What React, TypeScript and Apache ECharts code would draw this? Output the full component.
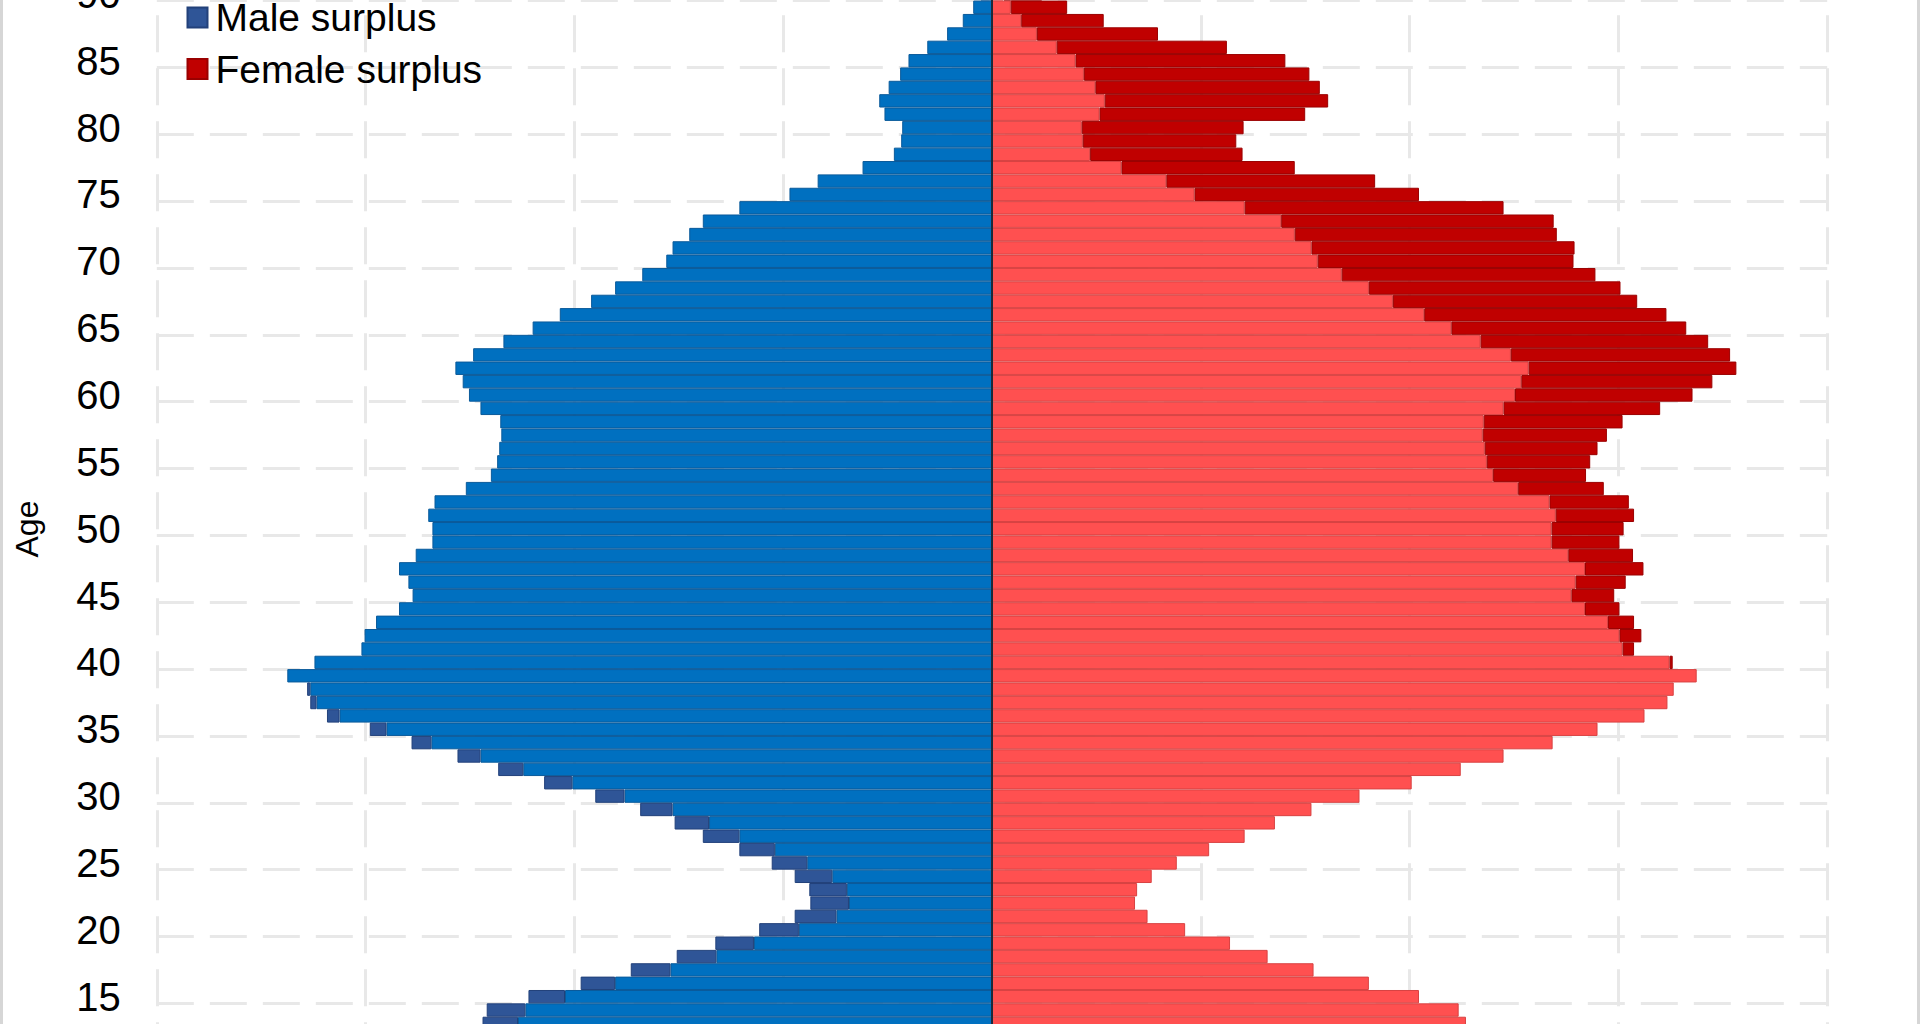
import React, { useEffect, useRef } from "react";
import * as echarts from "echarts";

// Ages shown (bottom to top)
const ages: string[] = [];
for (let a = 13; a <= 90; a++) ages.push(String(a));

// Population by single year of age (ages 13 .. 90)
const male: number[] = [
  488, 484, 444, 394, 346, 302, 265, 223, 189, 174, // 13-22
  175, 189, 211, 242, 277, 304, 337, 380, 429, 473, // 23-32
  512, 556, 596, 637, 653, 656, 675, 649, 604, 601, // 33-42
  590, 568, 555, 559, 568, 552, 536, 536, 540, 534, // 43-52
  504, 480, 474, 472, 470, 471, 490, 501, 507, 514, // 53-62
  497, 468, 440, 414, 384, 361, 335, 312, 306, 290, // 63-72
  277, 242, 194, 167, 124, 94, 87, 86, 103, 108,    // 73-82
  99, 88, 80, 62, 43, 28, 18, 11,                   // 83-90
];
const female: number[] = [
  454, 447, 409, 361, 308, 264, 228, 185, 149, 137, // 13-22
  139, 153, 177, 208, 242, 271, 306, 352, 402, 449, // 23-32
  490, 537, 580, 625, 647, 653, 675, 652, 615, 622, // 33-42
  615, 601, 596, 607, 624, 614, 601, 605, 615, 610, // 43-52
  586, 569, 573, 580, 589, 604, 640, 671, 690, 713, // 53-62
  707, 686, 665, 646, 618, 602, 578, 557, 558, 541, // 63-72
  538, 490, 409, 367, 290, 240, 234, 241, 300, 322, // 73-82
  314, 304, 281, 225, 159, 107, 72, 48,             // 83-90
];

const seriesNames = ["Male", "Male surplus", "Female", "Female surplus"];
const legendNames = ["Male surplus", "Female surplus"];
const axisName = "Age";

export default function App() {
  const ref = useRef<HTMLDivElement>(null);

  useEffect(() => {
    if (!ref.current) return;
    const chart = echarts.init(ref.current, null, { renderer: "svg" });

    const common = male.map((m, i) => Math.min(m, female[i]));
    const maleSurplus = male.map((m, i) => (m > female[i] ? -(m - female[i]) : "-"));
    const femaleSurplus = female.map((f, i) => (f > male[i] ? f - male[i] : "-"));
    const every5 = (_idx: number, val: string) => Number(val) % 5 === 0;
    const font = "Liberation Sans";

    chart.setOption({
      animation: false,
      backgroundColor: "#ffffff",
      grid: { left: 156.8, right: 92.8, top: 37.2, bottom: 43.9, containLabel: false },
      legend: {
        data: legendNames,
        orient: "vertical",
        left: 186.5,
        top: 48,
        padding: 0,
        itemWidth: 20,
        itemHeight: 20,
        itemGap: 12.5,
        icon: "rect",
        selectedMode: false,
        textStyle: { fontSize: 39, lineHeight: 39, color: "#000", fontFamily: font, padding: [0, 0, 0, 3] },
      },
      graphic: [
        {
          type: "text",
          x: 27,
          y: 579,
          rotation: Math.PI / 2,
          style: {
            text: axisName,
            fontSize: 32,
            fontFamily: font,
            fill: "#000",
            align: "center",
            verticalAlign: "middle",
            textAlign: "center",
            textVerticalAlign: "middle",
          },
        },
      ],
      xAxis: {
        type: "value",
        min: -800,
        max: 800,
        interval: 200,
        axisLabel: { show: false },
        axisLine: { show: false },
        axisTick: { show: false },
        splitLine: {
          show: true,
          lineStyle: { color: "#e8e8e8", width: 3, type: [37, 16], dashOffset: 25 },
        },
      },
      yAxis: {
        type: "category",
        data: ages,
        axisLine: { show: false },
        axisTick: { show: false },
        axisLabel: {
          interval: every5,
          fontSize: 40,
          color: "#000",
          fontFamily: font,
          margin: 36,
        },
        splitLine: {
          show: true,
          interval: every5,
          lineStyle: { color: "#e8e8e8", width: 3, type: [37, 16] },
        },
      },
      series: [
        {
          name: seriesNames[0],
          type: "bar",
          stack: "pyr",
          barCategoryGap: "0%",
          data: common.map((v) => -v),
          itemStyle: { color: "#0070C0", borderColor: "#0a5a9a", borderWidth: 1 },
          markLine: {
            silent: true,
            symbol: ["none", "none"],
            label: { show: false },
            lineStyle: { color: "#1c2b3a", width: 2, type: "solid" },
            data: [{ xAxis: 0 }],
          },
        },
        {
          name: seriesNames[1],
          type: "bar",
          stack: "pyr",
          barCategoryGap: "0%",
          data: maleSurplus,
          itemStyle: { color: "#2F5597", borderColor: "#22417a", borderWidth: 1 },
        },
        {
          name: seriesNames[2],
          type: "bar",
          stack: "pyr",
          barCategoryGap: "0%",
          data: common,
          itemStyle: { color: "#FF5050", borderColor: "#d84242", borderWidth: 1 },
        },
        {
          name: seriesNames[3],
          type: "bar",
          stack: "pyr",
          barCategoryGap: "0%",
          data: femaleSurplus,
          itemStyle: { color: "#C00000", borderColor: "#9a0000", borderWidth: 1 },
        },
      ],
    });

    return () => chart.dispose();
  }, []);

  return (
    <div
      style={{
        position: "fixed",
        left: 0,
        top: 0,
        width: 1920,
        height: 1024,
        overflow: "hidden",
        background: "#fff",
      }}
    >
      <div ref={ref} style={{ position: "absolute", left: 0, top: -50, width: 1920, height: 1124 }} />
      <div style={{ position: "absolute", left: 0, top: 0, width: 3, height: 1024, background: "#d6d6d6" }} />
      <div style={{ position: "absolute", left: 1917, top: 0, width: 3, height: 1024, background: "#d6d6d6" }} />
    </div>
  );
}
